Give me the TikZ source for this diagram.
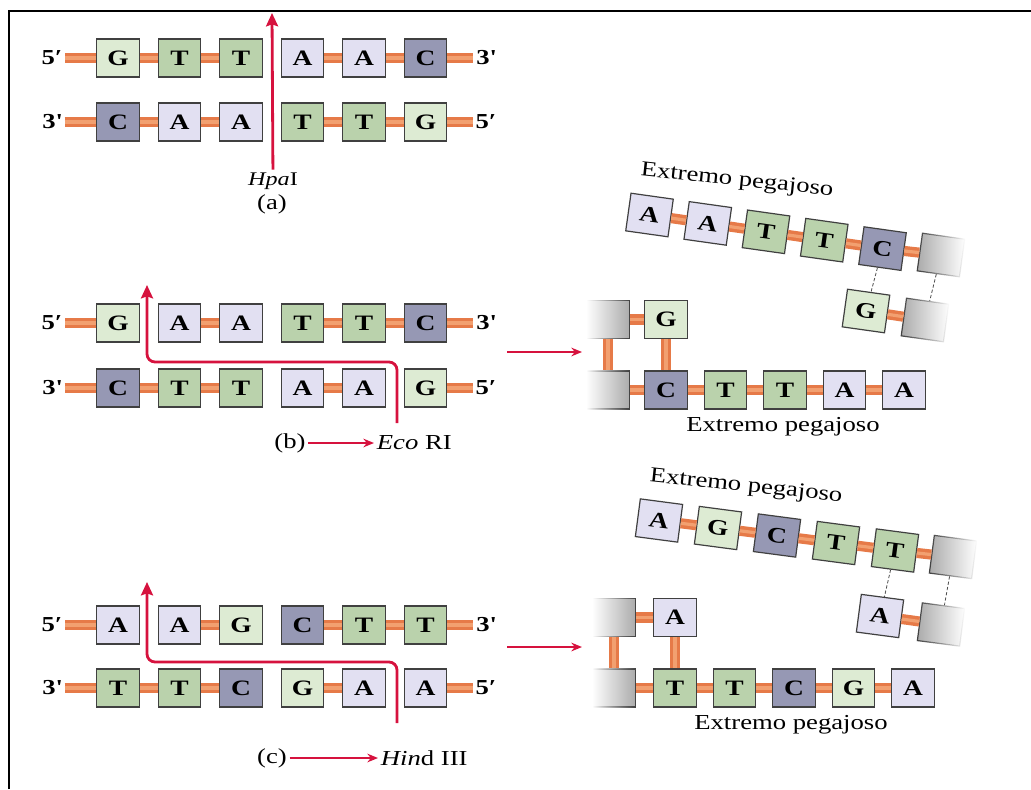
\documentclass[tikz,border=0pt]{standalone}
\usepackage{fontspec}
\setmainfont[FakeStretch=1.25]{Liberation Serif}
\usetikzlibrary{arrows.meta,fadings}

\definecolor{colG}{RGB}{221,235,211}
\definecolor{colT}{RGB}{186,210,172}
\definecolor{colA}{RGB}{226,224,242}
\definecolor{colC}{RGB}{150,152,180}
\definecolor{capgrey}{RGB}{170,170,170}
\definecolor{bondout}{RGB}{230,122,72}
\definecolor{bondin}{RGB}{242,160,112}
\definecolor{cutred}{RGB}{214,18,62}
\tikzfading[name=capfadeR, left color=transparent!0, right color=transparent!100]
\tikzfading[name=capfadeL, left color=transparent!100, right color=transparent!0]

\begin{document}
\begin{tikzpicture}[
    x=0.75pt, y=-0.75pt,
    nuc/.style={draw=black!75, line width=0.9pt, fill=col#1,
                minimum width=32pt, minimum height=28.5pt, inner sep=0pt,
                font=\fontsize{16.5}{18}\selectfont\bfseries},
    capL/.style={draw=black!75, line width=0.9pt, fill=capgrey,
                 minimum width=32pt, minimum height=28.5pt, path fading=capfadeL},
    capR/.style={capL, path fading=capfadeR},
    bond/.style={draw=bondout, double=bondin, double distance=2.4pt, line width=2.6pt},
    hbond/.style={draw=black!70, line width=0.6pt, dash pattern=on 2.5pt off 1.5pt},
    cut/.style={draw=cutred, line width=2.1pt, rounded corners=6pt,
                -{Stealth[length=10pt, width=9pt, inset=1.5pt]}},
    ptr/.style={draw=cutred, line width=1.2pt, -{Stealth[length=8pt, width=6.5pt]}},
    endlbl/.style={font=\fontsize{16}{18}\selectfont\bfseries, inner sep=2pt},
    enzlbl/.style={font=\fontsize{16}{18}\selectfont, inner sep=2pt},
    stick/.style={font=\fontsize{16}{18}\selectfont, inner sep=1pt},
  ]
    \useasboundingbox (0,0) rectangle (1031,789);
    \draw[line width=2.2pt] (9,789) -- (9,11) -- (1031,11);

    % the six double-strand rows on the left
    \foreach \row/\y/\bases/\bonds/\lab/\rab in {
        aT/58/{G,T,T,A,A,C}/{1,2,4,5}/{5′}/{3\textquotesingle},
        aB/122/{C,A,A,T,T,G}/{1,2,4,5}/{3\textquotesingle}/{5′},
        bT/323/{G,A,A,T,T,C}/{2,4,5}/{5′}/{3\textquotesingle},
        bB/388/{C,T,T,A,A,G}/{1,2,4}/{3\textquotesingle}/{5′},
        cT/625/{A,A,G,C,T,T}/{2,4,5}/{5′}/{3\textquotesingle},
        cB/688/{T,T,C,G,A,A}/{1,2,4}/{3\textquotesingle}/{5′}}{
      \foreach \nb [count=\i] in \bases
        \node[nuc=\nb] (\row\i) at ({118+61.5*(\i-1)},\y) {\nb};
      \node[endlbl] (\row L) at (52,\y) {\lab};
      \node[endlbl] (\row R) at (486,\y) {\rab};
      \draw[bond] (\row L) -- (\row 1);
      \draw[bond] (\row 6) -- (\row R);
      \foreach \i in \bonds {
        \pgfmathtruncatemacro\j{\i+1}
        \draw[bond] (\row\i) -- (\row\j);
      }
    }

    % (a) HpaI
    \node[enzlbl, font=\fontsize{14.5}{16}\selectfont] (hpa) at (273,181) {\textit{Hpa}I};
    \node[enzlbl] (alab) at (272,204) {(a)};
    \coordinate (hpaTip) at (272,13);
    \draw[cut] (hpa) -- (hpaTip);

    % (b) EcoRI
    \coordinate (ecoIn)  at (397,423);
    \coordinate (ecoTip) at (147,285);
    \draw[cut] (ecoIn) -- ++(0,-61) -| (ecoTip);
    \node[enzlbl] (blab) at (290,443) {(b)};
    \node[enzlbl, anchor=west] (eco) at (374,443) {\textit{Eco} RI};
    \draw[ptr] (blab) -- (eco);

    % (c) HindIII
    \coordinate (hindIn)  at (397,723);
    \coordinate (hindTip) at (147,582);
    \draw[cut] (hindIn) -- ++(0,-61) -| (hindTip);
    \node[enzlbl] (clab) at (272,758) {(c)};
    \node[enzlbl, anchor=west] (hind) at (378,758) {\textit{Hin}d III};
    \draw[ptr] (clab) -- (hind);

    \coordinate (bFrom) at (507,352);
    \coordinate (bTo)   at (582,352);
    \draw[ptr, line width=1.6pt] (bFrom) -- (bTo);
    \coordinate (cFrom) at (507,647);
    \coordinate (cTo)   at (582,647);
    \draw[ptr, line width=1.6pt] (cFrom) -- (cTo);

    % EcoRI fragments
    \foreach \nb [count=\i] in {A,A,T,T,C}
      \node[nuc=\nb, rotate=-8] (bs\i) at ({649.5+58.25*(\i-1)},{215+8.4*(\i-1)}) {\nb};
    \node[capR, rotate=-8] (bsE) at (941,255) {};
    \foreach \i/\j in {1/2,2/3,3/4,4/5,5/E} \draw[bond] (bs\i) -- (bs\j);
    \node[nuc=G, rotate=-8] (bx)  at (866,311) {G};
    \node[capR, rotate=-8]  (bxE) at (925,320) {};
    \draw[bond] (bx) -- (bxE);
    \draw[hbond] (bs5) -- (bx);
    \draw[hbond] (bsE) -- (bxE);

    \node[capL] (bl1) at (608,319.5) {};
    \node[nuc=G] (bg) at (666,319.5) {G};
    \node[capL] (bl2) at (608,390) {};
    \foreach \nb [count=\i] in {C,T,T,A,A}
      \node[nuc=\nb] (bb\i) at ({666+59.5*(\i-1)},390) {\nb};
    \draw[bond] (bl1) -- (bg);
    \draw[bond] (bl2) -- (bb1);
    \foreach \i/\j in {1/2,2/3,3/4,4/5} \draw[bond] (bb\i) -- (bb\j);
    \draw[bond] (bl1) -- (bl2);
    \draw[bond] (bg) -- (bb1);
    \node[stick, rotate=-6] (bstk1) at (737,181) {Extremo pegajoso};
    \node[stick] (bstk2) at (783,427) {Extremo pegajoso};

    % HindIII fragments
    \foreach \nb [count=\i] in {A,G,C,T,T}
      \node[nuc=\nb, rotate=-7.5] (cs\i) at ({659+59*(\i-1)},{520.5+7.5*(\i-1)}) {\nb};
    \node[capR, rotate=-7.5] (csE) at (953,557) {};
    \foreach \i/\j in {1/2,2/3,3/4,4/5,5/E} \draw[bond] (cs\i) -- (cs\j);
    \node[nuc=A, rotate=-7.5] (cx)  at (880,616) {A};
    \node[capR, rotate=-7.5]  (cxE) at (941,624.5) {};
    \draw[bond] (cx) -- (cxE);
    \draw[hbond] (cs5) -- (cx);
    \draw[hbond] (csE) -- (cxE);

    \node[capL] (cl1) at (614,617.5) {};
    \node[nuc=A] (cg) at (675,617.5) {A};
    \node[capL] (cl2) at (614,688) {};
    \foreach \nb [count=\i] in {T,T,C,G,A}
      \node[nuc=\nb] (cb\i) at ({675+59.5*(\i-1)},688) {\nb};
    \draw[bond] (cl1) -- (cg);
    \draw[bond] (cl2) -- (cb1);
    \foreach \i/\j in {1/2,2/3,3/4,4/5} \draw[bond] (cb\i) -- (cb\j);
    \draw[bond] (cl1) -- (cl2);
    \draw[bond] (cg) -- (cb1);
    \node[stick, rotate=-6] (cstk1) at (746,487) {Extremo pegajoso};
    \node[stick] (cstk2) at (791,725) {Extremo pegajoso};
\end{tikzpicture}
\end{document}
